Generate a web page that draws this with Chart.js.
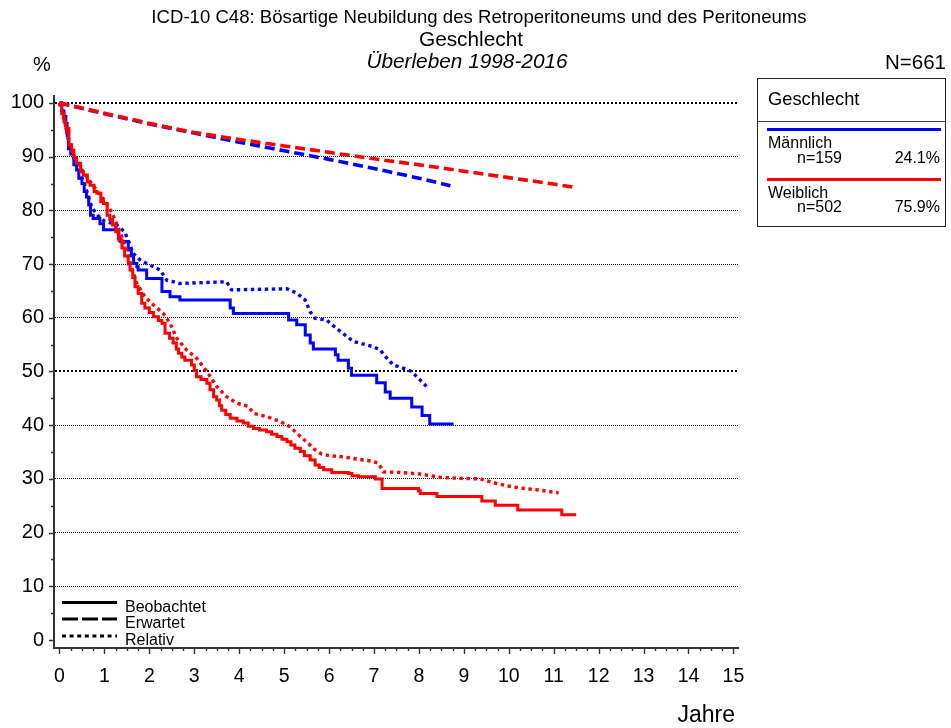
<!DOCTYPE html>
<html lang="de">
<head>
<meta charset="utf-8">
<title>ICD-10 C48 – Überleben nach Geschlecht</title>
<script src="https://cdn.jsdelivr.net/npm/chart.js@4.4.1/dist/chart.umd.min.js"></script>
<style>
  html, body { margin: 0; padding: 0; background: #fff; }
  #wrap { position: relative; width: 951px; height: 728px; overflow: hidden;
          font-family: Arial, "Liberation Sans", Helvetica, sans-serif; color: #000; }
  #chart { position: absolute; left: 0; top: 0; }
  .t { position: absolute; white-space: nowrap; line-height: 1; }
  .c { transform: translateX(-50%); }
  #legendBox { position: absolute; left: 757px; top: 78px; width: 189px; height: 149px;
               border: 1.5px solid #222; box-sizing: border-box; }
  .sep { position: absolute; left: 0; right: 0; top: 42px; height: 0; border-top: 1.5px solid #444; }
  .swatch { position: absolute; left: 9px; width: 174px; height: 3px; }
</style>
</head>
<body>
<div id="wrap">
  <canvas id="chart" width="951" height="728"></canvas>

  <div class="t c" style="left:479px; top:8px; font-size:18.6px;">ICD-10 C48: Bösartige Neubildung des Retroperitoneums und des Peritoneums</div>
  <div class="t c" style="left:471px; top:29px; font-size:20.8px;">Geschlecht</div>
  <div class="t c" style="left:467px; top:50.5px; font-size:20.8px; font-style:italic;">Überleben 1998-2016</div>
  <div class="t" style="left:33px; top:54px; font-size:20px;">%</div>
  <div class="t" style="right:5px; top:52px; font-size:20.5px;">N=661</div>
  <div class="t" style="right:216px; top:703px; font-size:23px;">Jahre</div>

  <div id="legendBox">
    <div class="t" style="left:10px; top:10.5px; font-size:18.3px;">Geschlecht</div>
    <div class="sep"></div>
    <div class="swatch" style="top:48.5px; background:#0000ff;"></div>
    <div class="t" style="left:10px; top:56px; font-size:16px;">Männlich</div>
    <div class="t" style="left:39px; top:70.5px; font-size:16px;">n=159</div>
    <div class="t" style="right:5px; top:70.5px; font-size:16px;">24.1%</div>
    <div class="swatch" style="top:98.5px; background:#ff0000;"></div>
    <div class="t" style="left:10px; top:106px; font-size:16px;">Weiblich</div>
    <div class="t" style="left:39px; top:120px; font-size:16px;">n=502</div>
    <div class="t" style="right:5px; top:120px; font-size:16px;">75.9%</div>
  </div>

  <svg style="position:absolute; left:0; top:0;" width="200" height="728">
    <line x1="62" y1="602.5" x2="117" y2="602.5" stroke="#000" stroke-width="3"/>
    <line x1="62" y1="619" x2="117" y2="619" stroke="#000" stroke-width="3" stroke-dasharray="16 4"/>
    <line x1="62" y1="636" x2="117" y2="636" stroke="#000" stroke-width="3" stroke-dasharray="4 3.6"/>
  </svg>
  <div class="t" style="left:125px; top:598.5px; font-size:16px;">Beobachtet</div>
  <div class="t" style="left:125px; top:614.5px; font-size:16px;">Erwartet</div>
  <div class="t" style="left:125px; top:631.5px; font-size:16px;">Relativ</div>
</div>

<script>
// Axis ticks
const yearTicks = [0, 1, 2, 3, 4, 5, 6, 7, 8, 9, 10, 11, 12, 13, 14, 15];
const pctTicks = [0, 10, 20, 30, 40, 50, 60, 70, 80, 90, 100];

// Männlich (n=159): observed survival (Kaplan-Meier steps)
const maleObsT = [0, 0.05, 0.1, 0.14, 0.17, 0.2, 0.25, 0.32, 0.38, 0.43, 0.5, 0.55, 0.6, 0.65, 0.69, 0.75, 0.9, 0.98,
  1.31, 1.35, 1.53, 1.6, 1.65, 1.72, 1.75, 1.94, 2.28, 2.46, 2.68, 3.8, 3.87, 5.1, 5.28, 5.47, 5.58, 5.65,
  6.14, 6.2, 6.43, 6.5, 7.06, 7.25, 7.36, 7.84, 8.07, 8.24, 8.77];
const maleObsS = [100, 98.5, 97.5, 96.2, 94, 91.5, 90.5, 88.5, 87.5, 86, 85, 83.5, 82.5, 81, 79.1, 78.5, 77.5, 76.4,
  74.8, 74.2, 72.6, 71.5, 70.1, 69.5, 68.9, 67.3, 64.9, 63.9, 63.3, 61.8, 60.8, 59.6, 58.7, 56.8, 55.3, 54.2,
  53.1, 52.1, 50.6, 49.3, 47.9, 46.2, 45, 43.4, 41.8, 40.2, 40.2];

// Männlich: relative survival
const maleRelT = [0, 0.1, 0.2, 0.3, 0.43, 0.55, 0.65, 0.72, 0.86, 1.0, 1.27, 1.45, 1.55, 1.64, 1.79, 1.94, 2.09, 2.24,
  2.39, 2.68, 3.72, 3.83, 5.06, 5.28, 5.47, 5.58, 5.69, 5.94, 6.17, 6.4, 6.54, 6.99, 7.14, 7.25, 7.43, 7.66, 7.84, 7.99, 8.21];
const maleRelS = [100, 97.6, 93, 90, 87.5, 85, 82.5, 80.5, 79, 78, 77.3, 76, 74, 72, 70.8, 70.1, 69.5, 68.9,
  67, 66.4, 66.7, 65.2, 65.4, 64.6, 63.3, 61.1, 59.9, 59.6, 58, 56.5, 55.6, 54.6, 54, 52.8, 51.2, 50.6, 50, 48.7, 46.9];

// Männlich: expected survival
const maleExpT = [0, 1, 2, 3, 4, 5, 6, 7, 8, 8.7];
const maleExpS = [100, 98, 96.1, 94.4, 92.7, 91.1, 89.5, 87.8, 86, 84.6];

// Weiblich (n=502): observed survival (Kaplan-Meier steps)
const femaleObsT = [0, 0.05, 0.1, 0.14, 0.21, 0.27, 0.32, 0.38, 0.47, 0.53, 0.62, 0.68, 0.77, 0.83, 0.92, 0.98, 1.06, 1.12,
  1.18, 1.25, 1.32, 1.39, 1.45, 1.53, 1.57, 1.63, 1.68, 1.75, 1.83, 1.9, 2.0, 2.09, 2.2, 2.28, 2.35, 2.45, 2.53, 2.6,
  2.65, 2.72, 2.79, 2.94, 3.0, 3.05, 3.15, 3.28, 3.35, 3.43, 3.5, 3.56, 3.61, 3.7, 3.8, 3.95, 4.09, 4.2, 4.32, 4.45,
  4.61, 4.72, 4.84, 4.95, 5.06, 5.15, 5.24, 5.36, 5.45, 5.58, 5.69, 5.78, 5.88, 6.06, 6.43, 6.51, 6.65, 7.03, 7.18,
  7.99, 8.03, 8.4, 9.4, 9.7, 10.2, 11.18, 11.5];
const femaleObsS = [100, 98, 96.5, 95.3, 92.2, 91.2, 89.7, 88.8, 87.2, 86.6, 85.3, 84.7, 83.5, 83.2, 81.6, 81.3, 79.1, 78.3,
  77.3, 76, 74.5, 73, 71.5, 70, 68.9, 67.5, 65.8, 64.5, 62.7, 61.8, 61, 60.2, 59.5, 59, 57.1, 56.2, 55.3, 54.2,
  53.4, 52.7, 52.1, 51.2, 50.2, 49, 48.5, 47.8, 46.6, 45.3, 44.7, 43.6, 42.8, 42, 41.3, 40.8, 40.4, 39.8, 39.4, 39.1,
  38.8, 38.3, 37.9, 37.4, 36.9, 36.3, 35.7, 35.1, 34.3, 33.5, 32.6, 32.1, 31.7, 31.2, 31, 30.6, 30.4, 30, 28.2,
  27.8, 27.3, 26.7, 25.9, 25.1, 24.2, 23.3, 23.3];

// Weiblich: relative survival
const femaleRelT = [0, 0.1, 0.2, 0.3, 0.45, 0.6, 0.75, 0.9, 1.05, 1.15, 1.25, 1.39, 1.5, 1.6, 1.72, 1.9, 2.09, 2.31,
  2.46, 2.61, 2.83, 3.05, 3.28, 3.5, 3.72, 3.95, 4.2, 4.32, 4.61, 4.91, 5.13, 5.36, 5.54, 5.69, 5.84, 6.02, 6.32,
  6.62, 6.95, 7.1, 7.21, 7.58, 8.03, 8.47, 8.92, 9.37, 9.66, 9.96, 10.26, 10.7, 11.11];
const femaleRelS = [100, 97, 93.5, 90.8, 88.2, 86.3, 84.6, 83, 81.3, 79.8, 78, 75, 72.5, 69.5, 66.4, 63.9, 62.4, 60.8,
  59, 56.2, 54, 52.5, 50, 47.2, 45.3, 44.1, 43.5, 42.2, 41.6, 40.7, 39.7, 37.9, 36.6, 35.4, 34.6, 34.3, 34.1,
  33.7, 33.3, 32.9, 31.3, 31.2, 30.9, 30.3, 30.1, 30, 29.3, 28.7, 28.3, 27.9, 27.4];

// Weiblich: expected survival
const femaleExpT = [0, 1, 2, 3, 4, 5, 6, 7, 8, 9, 10, 11, 11.45];
const femaleExpS = [100, 98.1, 96.2, 94.5, 93.2, 92, 90.8, 89.6, 88.5, 87.3, 86.1, 84.9, 84.3];

const BLUE = '#0000ff';
const RED = '#ff0000';
const FONT = 'Arial, "Liberation Sans", Helvetica, sans-serif';

const pts = (t, s) => t.map((x, i) => ({ x, y: s[i] }));

function observed(t, s, color) {
  return { data: pts(t, s), borderColor: color, borderWidth: 3, stepped: true,
           pointRadius: 0, fill: false, borderCapStyle: 'butt' };
}
function expected(t, s, color) {
  return { data: pts(t, s), borderColor: color, borderWidth: 3.6, borderDash: [10, 5],
           pointRadius: 0, fill: false, tension: 0, borderCapStyle: 'butt' };
}
function relative(t, s, color) {
  return { data: pts(t, s), borderColor: color, borderWidth: 3.4, borderDash: [3.4, 3.6],
           pointRadius: 0, fill: false, tension: 0, borderCapStyle: 'butt' };
}

// Outward tick marks: long at labelled values, short in between
const axisTickMarks = {
  id: 'axisTickMarks',
  afterDraw(chart) {
    const { ctx, chartArea: a } = chart;
    const xs = chart.scales.x, ys = chart.scales.y;
    ctx.save();
    ctx.strokeStyle = '#333';
    ctx.lineWidth = 1.4;
    ctx.beginPath();
    const lastYear = yearTicks[yearTicks.length - 1];
    for (let q = 0; q <= lastYear * 4; q++) {
      const v = q / 4;
      const px = Math.round(xs.getPixelForValue(v)) + 0.5;
      const len = q % 4 === 0 ? 6 : 3;
      ctx.moveTo(px, a.bottom);
      ctx.lineTo(px, a.bottom + len);
    }
    const lastPct = pctTicks[pctTicks.length - 1];
    for (let v = 0; v <= lastPct; v += 5) {
      const py = Math.round(ys.getPixelForValue(v)) + 0.5;
      const len = v % 10 === 0 ? 5 : 3;
      ctx.moveTo(a.left, py);
      ctx.lineTo(a.left - len, py);
    }
    ctx.stroke();
    ctx.restore();
  }
};

const isHeavy = v => v === 100 || v === 50;

new Chart(document.getElementById('chart'), {
  type: 'line',
  data: {
    datasets: [
      observed(femaleObsT, femaleObsS, RED),
      expected(femaleExpT, femaleExpS, RED),
      relative(femaleRelT, femaleRelS, RED),
      observed(maleObsT, maleObsS, BLUE),
      expected(maleExpT, maleExpS, BLUE),
      relative(maleRelT, maleRelS, BLUE)
    ]
  },
  options: {
    responsive: false,
    animation: false,
    devicePixelRatio: 1,
    layout: { padding: { left: 0, top: 96, right: 213, bottom: 0 } },
    plugins: { legend: { display: false }, tooltip: { enabled: false }, title: { display: false } },
    scales: {
      x: {
        type: 'linear',
        min: -0.1224,
        max: 15.102,
        afterBuildTicks: s => { s.ticks = yearTicks.map(v => ({ value: v })); },
        afterFit: s => { s.height = 80; },
        ticks: { autoSkip: false, maxRotation: 0, padding: 17, color: '#000',
                 font: { family: FONT, size: 19.5 } },
        grid: { display: false, drawTicks: false },
        border: { display: true, color: '#333', width: 2 }
      },
      y: {
        type: 'linear',
        min: -1.49,
        max: 101.3,
        afterBuildTicks: s => { s.ticks = pctTicks.map(v => ({ value: v })); },
        afterFit: s => { s.width = 54; },
        ticks: { autoSkip: false, padding: 10, color: '#000',
                 font: { family: FONT, size: 20 } },
        grid: {
          drawTicks: false,
          color: c => (c.tick && c.tick.value === 0) ? 'rgba(0,0,0,0)' : '#000',
          lineWidth: c => (c.tick && isHeavy(c.tick.value)) ? 2 : 1
        },
        border: {
          display: true, color: '#333', width: 2,
          dash: c => (c.tick && isHeavy(c.tick.value)) ? [2, 2] : [1, 1]
        }
      }
    }
  },
  plugins: [axisTickMarks]
});
</script>
</body>
</html>
